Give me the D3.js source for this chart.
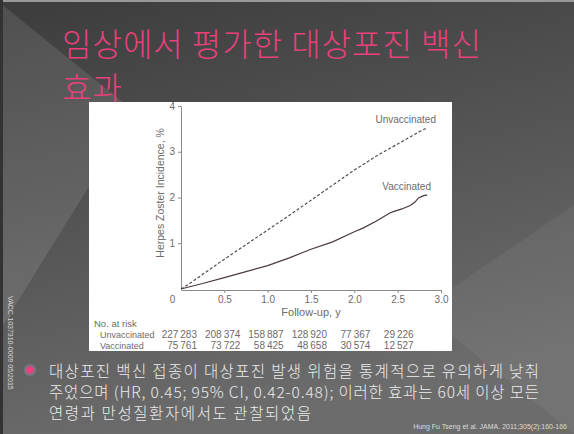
<!DOCTYPE html>
<html>
<head>
<meta charset="utf-8">
<script src="https://cdn.jsdelivr.net/npm/d3@7"></script>
<style>
  body { margin: 0; background: #444; }
  svg { display: block; }
</style>
</head>
<body>
<div id="slide"></div>
<script>
// chart values
var xTicks = [0, 0.5, 1.0, 1.5, 2.0, 2.5, 3.0];
var yTicks = [1, 2, 3, 4];

var unvacX = [0, 0.1, 0.25, 0.5, 0.75, 1.0, 1.25, 1.5, 1.75, 2.0, 2.25, 2.5, 2.65, 2.75, 2.84];
var unvacY = [0, 0.12, 0.32, 0.65, 0.97, 1.29, 1.61, 1.94, 2.27, 2.6, 2.9, 3.17, 3.33, 3.44, 3.52];

var vacX = [0, 0.1, 0.25, 0.5, 0.75, 1.0, 1.25, 1.5, 1.75, 2.0, 2.1, 2.25, 2.41, 2.45, 2.55, 2.65, 2.7, 2.74, 2.8, 2.84];
var vacY = [0, 0.05, 0.12, 0.25, 0.38, 0.51, 0.68, 0.87, 1.03, 1.25, 1.33, 1.48, 1.66, 1.69, 1.75, 1.83, 1.9, 1.99, 2.04, 2.05];

var riskTimes = [0, 0.5, 1.0, 1.5, 2.0, 2.5];
var riskUnvac = [227283, 208374, 158887, 128920, 77367, 29226];
var riskVac = [75761, 73722, 58425, 48658, 30574, 12527];

var titleLines = ["임상에서 평가한 대상포진 백신", "효과"];
var bulletLines = [
    "대상포진 백신 접종이 대상포진 발생 위험을 통계적으로 유의하게 낮춰",
    "주었으며 (HR, 0.45; 95% CI, 0.42-0.48); 이러한 효과는 60세 이상 모든",
    "연령과 만성질환자에서도 관찰되었음"
];
var bulletWidths = [490, 490, 262];

var svgWidth = 574;
var svgHeight = 434;

var svg = d3.select("#slide")
    .append("svg")
    .attr("width", svgWidth)
    .attr("height", svgHeight);

// background
var defs = svg.append("defs");
var grad = defs.append("linearGradient")
    .attr("id", "bg")
    .attr("x1", 0).attr("y1", 0).attr("x2", 0.3).attr("y2", 1);
grad.append("stop").attr("offset", "0%").attr("stop-color", "#3c3c3c");
grad.append("stop").attr("offset", "100%").attr("stop-color", "#6c6c6c");

var glow = defs.append("radialGradient").attr("id", "glow");
glow.append("stop").attr("offset", "0%").attr("stop-color", "#ff3d80");
glow.append("stop").attr("offset", "45%").attr("stop-color", "#e0407c");
glow.append("stop").attr("offset", "75%").attr("stop-color", "#7f8fa0").attr("stop-opacity", 0.5);
glow.append("stop").attr("offset", "100%").attr("stop-color", "#6a6a6a").attr("stop-opacity", 0);

svg.append("rect")
    .attr("width", svgWidth)
    .attr("height", svgHeight)
    .attr("fill", "url(#bg)");

svg.append("path")
    .attr("d", "M0,3 L135,112 L0,330 Z")
    .attr("fill", "#ffffff")
    .attr("opacity", 0.1);

svg.append("path")
    .attr("d", "M574,205 L420,310 L574,434 Z")
    .attr("fill", "#ffffff")
    .attr("opacity", 0.05);

svg.append("rect").attr("x", 0).attr("y", 0).attr("width", svgWidth).attr("height", 2).attr("fill", "#999");
svg.append("rect").attr("x", 0).attr("y", 0).attr("width", 3).attr("height", svgHeight).attr("fill", "#333");

// title
svg.append("g").selectAll("text")
    .data(titleLines)
    .enter()
    .append("text")
    .attr("x", 62)
    .attr("y", (d, i) => 56 + i * 44)
    .attr("fill", "#e8407c")
    .attr("font-family", "Noto Sans CJK KR")
    .attr("font-weight", 300)
    .attr("font-size", 32)
    .attr("letter-spacing", 1)
    .text(d => d);

// white panel
svg.append("rect")
    .attr("x", 89)
    .attr("y", 102)
    .attr("width", 363)
    .attr("height", 249)
    .attr("fill", "#ffffff");

var xLinearScale = d3.scaleLinear().domain([0, 3]).range([181, 441]);
var yLinearScale = d3.scaleLinear().domain([0, 4]).range([289, 106]);

var axisColor = "#8a8a8a";
var textColor = "#6f6a6a";
var chartFont = "Liberation Sans, Arial, sans-serif";

var bottomAxis = d3.axisBottom(xLinearScale)
    .tickValues(xTicks)
    .tickSize(3)
    .tickSizeOuter(0)
    .tickFormat(d => d === 0 ? "0" : d3.format(".1f")(d));

var leftAxis = d3.axisLeft(yLinearScale)
    .tickValues(yTicks)
    .tickSize(3)
    .tickSizeOuter(0)
    .tickFormat(d3.format("d"));

var xAxis = svg.append("g")
    .attr("transform", "translate(0, 290)")
    .call(bottomAxis);

var yAxis = svg.append("g")
    .attr("transform", "translate(181, 0)")
    .call(leftAxis);

[xAxis, yAxis].forEach(function (ax) {
    ax.select(".domain").attr("stroke", axisColor);
    ax.selectAll(".tick line").attr("stroke", axisColor);
    ax.selectAll(".tick text")
        .attr("fill", textColor)
        .attr("font-family", chartFont)
        .attr("font-size", 10);
});

// origin label sits down-left of the corner
xAxis.selectAll(".tick")
    .filter(d => d === 0)
    .select("text")
    .attr("dx", -9);
xAxis.selectAll(".tick")
    .filter(d => d === 0)
    .select("line")
    .remove();

svg.append("text")
    .attr("x", xLinearScale(1.5))
    .attr("y", 316)
    .attr("text-anchor", "middle")
    .attr("fill", textColor)
    .attr("font-family", chartFont)
    .attr("font-size", 11)
    .text("Follow-up, y");

svg.append("text")
    .attr("transform", `translate(164, ${yLinearScale(2.1)}) rotate(-90)`)
    .attr("text-anchor", "middle")
    .attr("fill", textColor)
    .attr("font-family", chartFont)
    .attr("font-size", 10.5)
    .text("Herpes Zoster Incidence, %");

// curves
var line = d3.line()
    .x(d => xLinearScale(d[0]))
    .y(d => yLinearScale(d[1]));

svg.append("path")
    .datum(d3.zip(unvacX, unvacY))
    .attr("d", line)
    .attr("fill", "none")
    .attr("stroke", "#5a4a4a")
    .attr("stroke-width", 1.2)
    .attr("stroke-dasharray", "3,2");

svg.append("path")
    .datum(d3.zip(vacX, vacY))
    .attr("d", line)
    .attr("fill", "none")
    .attr("stroke", "#4a3a3a")
    .attr("stroke-width", 1.2);

svg.append("text")
    .attr("x", 436)
    .attr("y", 123)
    .attr("text-anchor", "end")
    .attr("fill", textColor)
    .attr("font-family", chartFont)
    .attr("font-size", 10)
    .text("Unvaccinated");

svg.append("text")
    .attr("x", 431)
    .attr("y", 190)
    .attr("text-anchor", "end")
    .attr("fill", textColor)
    .attr("font-family", chartFont)
    .attr("font-size", 10)
    .text("Vaccinated");

// number at risk table
var fmt = d => d3.format(",")(d).replace(",", "\u2009");

svg.append("text")
    .attr("x", 94).attr("y", 327)
    .attr("fill", textColor)
    .attr("font-family", chartFont)
    .attr("font-size", 9.5)
    .text("No. at risk");

["Unvaccinated", "Vaccinated"].forEach(function (name, i) {
    svg.append("text")
        .attr("x", 100).attr("y", 338 + i * 11)
        .attr("fill", textColor)
        .attr("font-family", chartFont)
        .attr("font-size", 9)
        .text(name);
});

svg.append("g").selectAll("text")
    .data(d3.zip(riskTimes, riskUnvac))
    .enter()
    .append("text")
    .attr("x", d => xLinearScale(d[0]) + 16)
    .attr("y", 338)
    .attr("text-anchor", "end")
    .attr("fill", textColor)
    .attr("font-family", chartFont)
    .attr("font-size", 10)
    .text(d => fmt(d[1]));

svg.append("g").selectAll("text")
    .data(d3.zip(riskTimes, riskVac))
    .enter()
    .append("text")
    .attr("x", d => xLinearScale(d[0]) + 16)
    .attr("y", 349)
    .attr("text-anchor", "end")
    .attr("fill", textColor)
    .attr("font-family", chartFont)
    .attr("font-size", 10)
    .text(d => fmt(d[1]));

// bullet text
svg.append("circle")
    .attr("cx", 30).attr("cy", 370)
    .attr("r", 7)
    .attr("fill", "url(#glow)");

svg.append("g").selectAll("text")
    .data(d3.zip(bulletLines, bulletWidths))
    .enter()
    .append("text")
    .attr("x", 49)
    .attr("y", (d, i) => 377 + i * 21)
    .attr("fill", "#ececec")
    .attr("font-family", "Noto Sans CJK KR")
    .attr("font-weight", 300)
    .attr("font-size", 15.5)
    .attr("textLength", d => d[1])
    .attr("lengthAdjust", "spacing")
    .text(d => d[0]);

// side code and citation
svg.append("text")
    .attr("transform", "translate(8, 296) rotate(90)")
    .attr("fill", "#d8d8d8")
    .attr("font-family", chartFont)
    .attr("font-size", 7)
    .text("VACC-1037310-0009  05/2015");

svg.append("text")
    .attr("x", 567)
    .attr("y", 429)
    .attr("text-anchor", "end")
    .attr("fill", "#dcdcdc")
    .attr("font-family", chartFont)
    .attr("font-size", 7)
    .text("Hung Fu Tseng et al. JAMA. 2011;305(2):160-166");
</script>
</body>
</html>
